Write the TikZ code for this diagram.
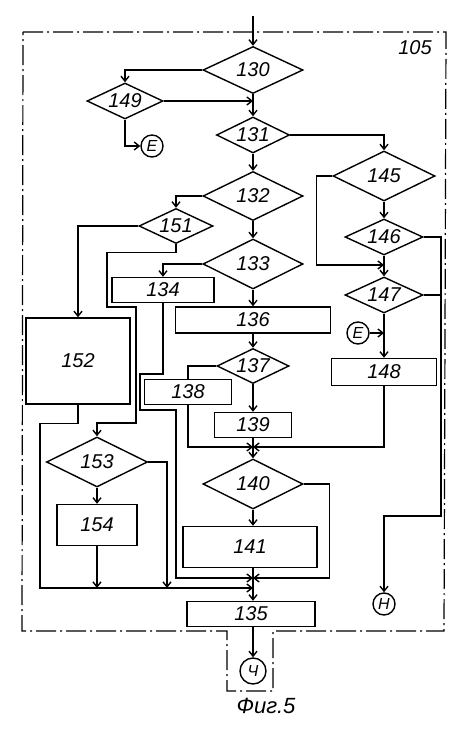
\documentclass[tikz,border=0pt]{standalone}
\usepackage{fontspec}
\setmainfont{Liberation Sans}
\usepackage{tikz}
\usetikzlibrary{arrows.meta,shapes.geometric}

\begin{document}
\begin{tikzpicture}[x=1pt,y=-1pt,line width=1.4pt,
  every node/.style={font=\itshape\fontsize{20}{20}\selectfont,inner sep=0pt},
  dmd/.style={draw,diamond,aspect=2},
  blk/.style={draw,rectangle},
  con/.style={draw,circle,font=\itshape\fontsize{16}{16}\selectfont},
  arr/.style={-{Straight Barb[length=5pt,width=8pt]}},
  frame/.style={line width=1.2pt,dash pattern=on 20pt off 4pt on 2pt off 4pt}]
\useasboundingbox (0,0) rectangle (474,730);
\draw[frame] (23,32) -- (446,32) -- (444,631) -- (273,631) -- (273,691) -- (227,691) -- (227,631) -- (22,631) -- cycle;
\node (lbl105) at (415,48) {105};
\node[dmd,minimum width=100pt,minimum height=47pt] (n130) at (253,70) {130};
\node[dmd,minimum width=76pt,minimum height=36pt] (n149) at (125,101) {149};
\node[con,minimum size=22pt] (eA) at (152,146) {E};
\node[dmd,minimum width=73pt,minimum height=36pt] (n131) at (253,135) {131};
\node[dmd,minimum width=102pt,minimum height=50pt] (n145) at (384,176) {145};
\node[dmd,minimum width=100pt,minimum height=49pt] (n132) at (253,196) {132};
\node[dmd,minimum width=74pt,minimum height=35pt] (n151) at (176,226) {151};
\node[dmd,minimum width=78pt,minimum height=36pt] (n146) at (384,237) {146};
\node[dmd,minimum width=100pt,minimum height=50pt] (n133) at (253,264) {133};
\node[blk,minimum width=102pt,minimum height=25pt] (n134) at (163,290) {134};
\node[dmd,minimum width=78pt,minimum height=36pt] (n147) at (384,295) {147};
\node[blk,minimum width=155pt,minimum height=26pt] (n136) at (253,320) {136};
\node[con,minimum size=22pt] (eB) at (358,333) {E};
\node[blk,minimum width=104pt,minimum height=86pt] (n152) at (78,361) {152};
\node[dmd,minimum width=72pt,minimum height=35pt] (n137) at (253,366) {137};
\node[blk,minimum width=105pt,minimum height=27pt] (n148) at (384,372) {148};
\node[blk,minimum width=87pt,minimum height=25pt] (n138) at (188,392) {138};
\node[blk,minimum width=77pt,minimum height=25pt] (n139) at (253,425) {139};
\node[dmd,minimum width=101pt,minimum height=50pt] (n153) at (97,462) {153};
\node[dmd,minimum width=100pt,minimum height=50pt] (n140) at (253,484) {140};
\node[blk,minimum width=80pt,minimum height=41pt] (n154) at (97,525) {154};
\node[blk,minimum width=134pt,minimum height=41pt] (n141) at (250,547) {141};
\node[con,minimum size=22pt] (cH) at (384,604) {H};
\node[blk,minimum width=128pt,minimum height=25pt] (n135) at (251,614) {135};
\node[con,minimum size=26pt] (cL) at (253,671) {Ч};
\node[font=\itshape\fontsize{22}{22}\selectfont] (fig) at (266,706) {Фиг.5};
\coordinate (top) at (253,16);
\coordinate (j1) at (253,447);
\coordinate (j2) at (253,578);
\coordinate (j3) at (253,588);
\coordinate (rt) at (441,516);
\draw[arr] (top) -- (n130.north);
\draw[arr] (n130.west) -| (n149.north);
\draw[arr] (n130.south) -- (n131.north);
\draw[arr] (n149.east) -- (n149.east -| n130.south);
\draw[arr] (n149.south) |- (eA.west);
\draw[arr] (n131.east) -| (n145.north);
\draw[arr] (n131.south) -- (n132.north);
\draw[arr] (n132.west) -| (n151.north);
\draw[arr] (n132.south) -- (n133.north);
\draw[arr] (n151.west) -| (n152.north);
\draw[arr] (n151.south) -- ++(0,8) -| (107,307) -| (136,423) -| (n153.north);
\draw[arr] (n133.west) -| (n134.north);
\draw[arr] (n133.south) -- (n136.north);
\draw[arr] (n134.south) -- (163,374) -| (140,410) -| (176,578) -- (j2);
\draw[arr] (n136.south) -- (n137.north);
\draw (n137.west) -| (n138.north);
\draw[arr] (n137.south) -- (n139.north);
\draw[arr] (n138.south) |- (j1);
\draw (n139.south) -- (j1);
\draw[arr] (n145.south) -- (n146.north);
\draw[arr] (n145.west) -- ++(-16,0) |- (384,265);
\draw[arr] (n146.south) -- (n147.north);
\draw[arr] (n146.east) -| (rt) -| (cH.north);
\draw (n147.east) -- (n147.east -| rt);
\draw[arr] (n147.south) -- (n148.north);
\draw[arr] (eB.east) -- (eB.east -| n147.south);
\draw[arr] (n148.south) |- (j1);
\draw[arr] (j1) -- (n140.north);
\draw[arr] (n140.south) -- (n140.south |- n141.north);
\draw[arr] (n140.east) -- ++(26,0) |- (j2);
\draw (j2 |- n141.south) -- (j2) -- (j3);
\draw[arr] (n152.south) -- ++(0,19) -| (40,588) -- (j3);
\draw[arr] (n153.east) -| (167,588);
\draw[arr] (n153.south) -- (n154.north);
\draw[arr] (n154.south) -- (n154.south |- j3);
\draw[arr] (j3) -- (j3 |- n135.north);
\draw[arr] (n135.south -| j3) -- (cL.north);
\end{tikzpicture}
\end{document}
